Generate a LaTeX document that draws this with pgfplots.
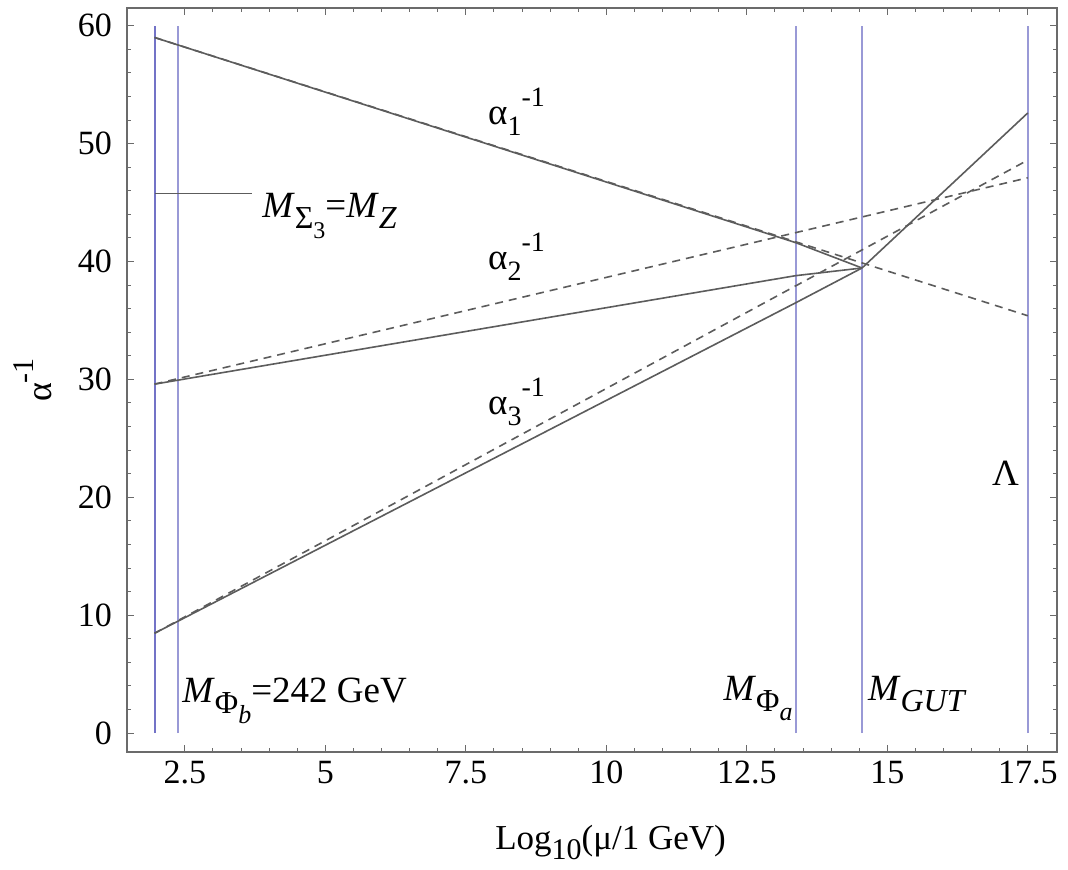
\documentclass[border=0pt]{standalone}
\usepackage{fontspec}
\setmainfont{Liberation Serif}
\usepackage{pgfplots}
\pgfplotsset{compat=1.18}
\definecolor{vline}{rgb}{0.60,0.60,0.84}
\definecolor{vlinedark}{rgb}{0.45,0.45,0.78}
\definecolor{curve}{gray}{0.36}
\definecolor{framec}{gray}{0.42}
\newcommand\mysub[2][15]{\raisebox{-0.3em}{\fontsize{#1}{#1}\selectfont #2}}
\newcommand\mysup[2][14]{\raisebox{0.5em}{\fontsize{#1}{#1}\selectfont #2}}
\begin{document}
\begin{tikzpicture}
\useasboundingbox (-63.5pt,-58.5pt) rectangle (470.5pt,376pt);
\begin{axis}[
  scale only axis, width=465pt, height=372pt,
  xmin=1.47, xmax=18.02, ymin=-1.6, ymax=61.5,
  xtick={2.5,5,7.5,10,12.5,15,17.5},
  ytick={0,10,20,30,40,50,60},
  minor x tick num=4, minor y tick num=4,
  tick align=inside, major tick length=3.5pt, minor tick length=2pt,
  axis line style={framec, line width=0.8pt},
  every tick/.style={framec, line width=0.5pt},
  ticklabel style={font=\fontsize{17}{20}\selectfont},
  /pgf/number format/assume math mode=true,
  yticklabel style={xshift=-4pt},
  xticklabel style={yshift=-1pt},
  xlabel={Log\mysub[15]{10}(μ/1 GeV)},
  xlabel style={font=\fontsize{17.5}{20}\selectfont, at={(axis description cs:0.52,0)}, anchor=base, yshift=-48.5pt},
  ylabel={α\mysup[15]{-1}},
  ylabel style={font=\fontsize{18}{20}\selectfont, at={(axis description cs:0,0.5)}, anchor=center, yshift=47pt},
  clip=false,
]
% vertical scale lines
\addplot[vlinedark, line width=1pt] coordinates {(1.96,0) (1.96,60)};
\addplot[vline, line width=1pt] coordinates {(2.384,0) (2.384,60)};
\addplot[vline, line width=1pt] coordinates {(13.37,0) (13.37,60)};
\addplot[vline, line width=1pt] coordinates {(14.55,0) (14.55,60)};
\addplot[vline, line width=1pt] coordinates {(17.5,0) (17.5,60)};
% SM running (dashed)
\addplot[curve, line width=0.8pt, dash pattern=on 4pt off 3pt] coordinates {(1.96,59.0) (17.5,35.4)};
\addplot[curve, line width=0.8pt, dash pattern=on 4pt off 3pt] coordinates {(1.96,29.6) (17.5,47.1)};
\addplot[curve, line width=0.8pt, dash pattern=on 4pt off 3pt] coordinates {(1.96,8.47) (17.5,48.6)};
% model running (solid)
\addplot[curve, line width=0.8pt] coordinates {(1.96,59.0) (13.37,41.6) (14.55,39.45)};
\addplot[curve, line width=0.8pt] coordinates {(1.96,29.6) (13.37,38.8) (14.55,39.45)};
\addplot[curve, line width=0.8pt] coordinates {(1.96,8.47) (13.37,36.5) (14.55,39.45)};
\addplot[curve, line width=0.8pt] coordinates {(14.55,39.45) (17.5,52.6)};
% pointer line
\addplot[curve, line width=0.6pt] coordinates {(1.96,45.8) (3.69,45.8)};
% labels
\begin{scope}[every node/.style={inner sep=0pt, font=\fontsize{18.5}{20}\selectfont}]
\node[anchor=base west] at (axis cs:7.89,51.6) {α\mysub[14]{1}\mysup[14]{-1}};
\node[anchor=base west] at (axis cs:7.89,39.3) {α\mysub[14]{2}\mysup[14]{-1}};
\node[anchor=base west] at (axis cs:7.89,27.0) {α\mysub[14]{3}\mysup[14]{-1}};
\node[anchor=base west] at (axis cs:16.86,21.0) {Λ};
\node[anchor=base west] at (axis cs:3.87,43.7) {\textit{M}\mysub[16]{Σ\mysub[12]{3}}=\textit{M}\mysub[16]{\textit{Z}}};
\node[anchor=base west] at (axis cs:2.45,2.6) {\textit{M}\mysub[16]{Φ\mysub[13]{\textit{b}}}=242 GeV};
\node[anchor=base east] at (axis cs:13.32,2.8) {\textit{M}\mysub[16]{Φ\mysub[13]{\textit{a}}}};
\node[anchor=base west] at (axis cs:14.65,2.8) {\textit{M}\mysub[16]{\textit{GUT}}};
\end{scope}
\end{axis}
\end{tikzpicture}
\end{document}
